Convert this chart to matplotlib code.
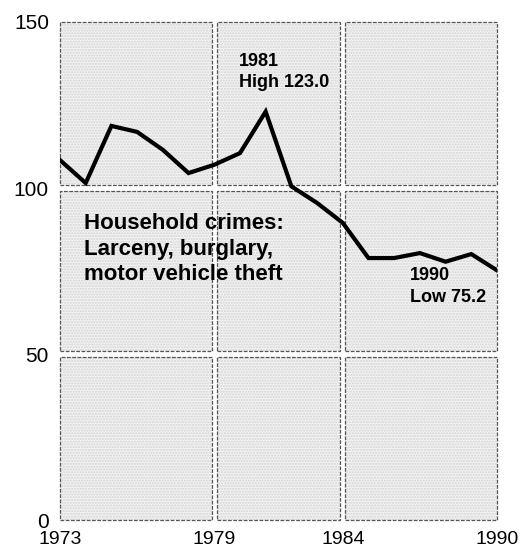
import matplotlib
matplotlib.use("Agg")
import matplotlib.pyplot as plt
from matplotlib.patches import Rectangle

# Household crimes rate, 1973-1990
years = list(range(1973, 1991))
rate = [108.4, 101.5, 118.7, 116.9, 111.5, 104.5, 107.0, 110.5, 123.0,
        100.5, 95.5, 89.5, 78.9, 78.9, 80.4, 77.8, 80.1, 75.2]

x_ticks = [1973, 1979, 1984, 1990]
y_ticks = [0, 50, 100, 150]
x_breaks = [1973, 1979, 1984, 1990]
y_breaks = [0, 50, 100, 150]

plt.rcParams["font.family"] = ["Liberation Sans", "DejaVu Sans"]
BOLD_FONT = ["Liberation Sans Narrow", "Liberation Sans", "DejaVu Sans"]

fig = plt.figure(figsize=(5.26, 5.5), dpi=100)
ax = fig.add_axes([60/526, 1 - 520/550, 437/526, 498/550])
ax.set_xlim(1973, 1990)
ax.set_ylim(0, 150)

# stippled panels separated by white gaps
gx, gy = 0.1, 0.8
for i in range(len(x_breaks) - 1):
    for j in range(len(y_breaks) - 1):
        x0 = x_breaks[i] + (gx if i > 0 else 0)
        x1 = x_breaks[i + 1] - (gx if i < len(x_breaks) - 2 else 0)
        y0 = y_breaks[j] + (gy if j > 0 else 0)
        y1 = y_breaks[j + 1] - (gy if j < len(y_breaks) - 2 else 0)
        # light stipple fill
        ax.add_patch(Rectangle((x0, y0), x1 - x0, y1 - y0, facecolor="#f2f2f2",
                               edgecolor="#d4d4d4", linewidth=0, hatch="......",
                               zorder=0, clip_on=False))
        # dashed border
        ax.add_patch(Rectangle((x0, y0), x1 - x0, y1 - y0, facecolor="none",
                               edgecolor="#555555", linewidth=0.9,
                               linestyle=(0, (3, 1.2)), zorder=1, clip_on=False))

ax.plot(years, rate, color="black", linewidth=3.0, solid_joinstyle="miter", zorder=3)

for s in ax.spines.values():
    s.set_visible(False)
ax.set_xticks(x_ticks)
ax.set_xticklabels([str(t) for t in x_ticks], fontsize=14)
ax.set_yticks(y_ticks)
ax.set_yticklabels([str(t) for t in y_ticks], fontsize=15)
ax.tick_params(axis="y", length=0, pad=8)
ax.tick_params(axis="x", length=0, pad=8)

ax.text(1979.95, 140.8, "1981\nHigh 123.0", family=BOLD_FONT, fontweight="bold",
        fontsize=13, ha="left", va="top", linespacing=1.35, zorder=4)
ax.text(1973.95, 92.5, "Household crimes:\nLarceny, burglary,\nmotor vehicle theft",
        family=BOLD_FONT, fontweight="bold", fontsize=16, ha="left", va="top",
        linespacing=1.3, zorder=4)
ax.text(1986.6, 76.2, "1990\nLow 75.2", family=BOLD_FONT, fontweight="bold",
        fontsize=13, ha="left", va="top", linespacing=1.35, zorder=4)

fig.savefig("out.png", dpi=100, facecolor="white")
